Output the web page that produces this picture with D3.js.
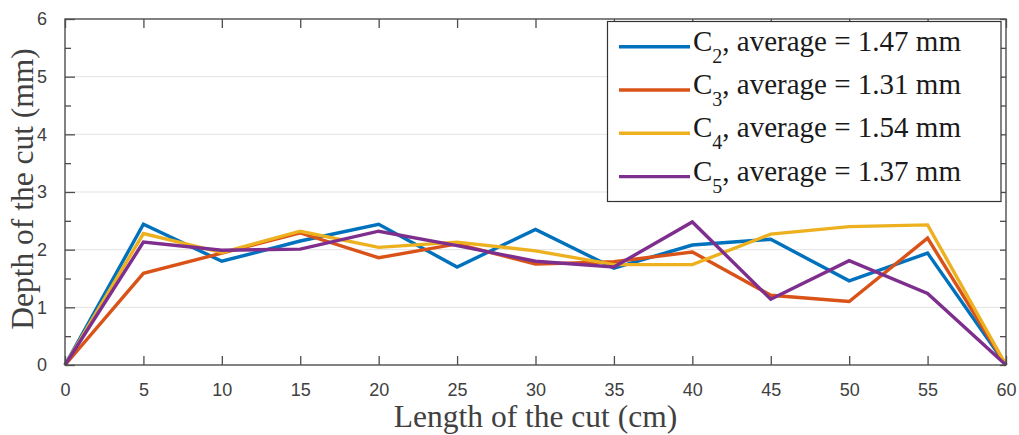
<!DOCTYPE html>
<html>
<head>
<meta charset="utf-8">
<script src="https://cdn.jsdelivr.net/npm/d3@7"></script>
<style>
  html, body { margin: 0; padding: 0; background: #fff; }
  svg { display: block; }
</style>
</head>
<body>
<svg id="chart" width="1019" height="435"></svg>
<script>
// ---- data ----
const lengths = [0, 5, 10, 15, 20, 25, 30, 35, 40, 45, 50, 55, 60];
const c2 = [0, 2.44, 1.80, 2.15, 2.44, 1.70, 2.35, 1.68, 2.08, 2.18, 1.46, 1.94, 0];
const c3 = [0, 1.59, 1.94, 2.29, 1.86, 2.10, 1.75, 1.79, 1.96, 1.21, 1.10, 2.20, 0];
const c4 = [0, 2.28, 1.95, 2.32, 2.04, 2.13, 1.98, 1.74, 1.74, 2.27, 2.40, 2.43, 0];
const c5 = [0, 2.13, 1.99, 2.01, 2.32, 2.07, 1.80, 1.70, 2.48, 1.14, 1.81, 1.24, 0];
const seriesNames = ["C", "C", "C", "C"];
const seriesSubs = ["2", "3", "4", "5"];
const seriesAverages = ["1.47", "1.31", "1.54", "1.37"];
const xTicks = [0, 5, 10, 15, 20, 25, 30, 35, 40, 45, 50, 55, 60];
const yTicks = [0, 1, 2, 3, 4, 5, 6];
const yMinorTicks = [0.5, 1.5, 2.5, 3.5, 4.5, 5.5];
const xTitle = "Length of the cut (cm)";
const yTitle = "Depth of the cut (mm)";

// ---- layout ----
const W = 1019, H = 435;
const m = { left: 65, right: 13, top: 19, bottom: 70 };
const colors = ["#0072BD", "#D95319", "#EDB120", "#7E2F8E"];
const axisColor = "#4d4d4d";
const sans = "'Liberation Sans', Arial, Helvetica, sans-serif";
const serif = "'Liberation Serif', 'Times New Roman', serif";

const svg = d3.select("#chart");
const x = d3.scaleLinear().domain([0, 60]).range([m.left, W - m.right]);
const y = d3.scaleLinear().domain([0, 6]).range([H - m.bottom, m.top]);

// gridlines
svg.append("g")
  .selectAll("line").data(yTicks.filter(d => d > 0 && d < 6)).join("line")
  .attr("x1", x(0)).attr("x2", x(60))
  .attr("y1", d => y(d)).attr("y2", d => y(d))
  .attr("stroke", "#e3e3e3").attr("stroke-width", 1);

// series
const seriesData = [c2, c3, c4, c5];
const line = d3.line().x((d, i) => x(lengths[i])).y(d => y(d));
svg.append("g").selectAll("path").data(seriesData).join("path")
  .attr("d", d => line(d))
  .attr("fill", "none")
  .attr("stroke", (d, i) => colors[i])
  .attr("stroke-width", 3.4)
  .attr("stroke-linejoin", "miter")
  .attr("stroke-miterlimit", 3);

// axes
function styleAxis(g) {
  g.select(".domain").remove();
  g.selectAll(".tick line").attr("stroke", axisColor).attr("stroke-width", 1.3);
  g.selectAll(".tick text").attr("fill", "#404040")
    .style("font-family", sans).style("font-size", "18px");
}
const xAxis = svg.append("g").attr("transform", `translate(0,${y(0)})`)
  .call(d3.axisBottom(x).tickValues(xTicks).tickSize(-9).tickPadding(18).tickFormat(d3.format("d")));
styleAxis(xAxis);
const xAxisTop = svg.append("g").attr("transform", `translate(0,${y(6)})`)
  .call(d3.axisTop(x).tickValues(xTicks).tickSize(-9).tickFormat(""));
styleAxis(xAxisTop);

const yAxis = svg.append("g").attr("transform", `translate(${x(0)},0)`)
  .call(d3.axisLeft(y).tickValues(yTicks).tickSize(-10).tickPadding(18).tickFormat(d3.format("d")));
styleAxis(yAxis);
const yMinor = svg.append("g").attr("transform", `translate(${x(0)},0)`)
  .call(d3.axisLeft(y).tickValues(yMinorTicks).tickSize(-6).tickFormat(""));
styleAxis(yMinor);
const yAxisR = svg.append("g").attr("transform", `translate(${x(60)},0)`)
  .call(d3.axisRight(y).tickValues(yTicks).tickSize(-6).tickFormat(""));
styleAxis(yAxisR);
const yMinorR = svg.append("g").attr("transform", `translate(${x(60)},0)`)
  .call(d3.axisRight(y).tickValues(yMinorTicks).tickSize(-6).tickFormat(""));
styleAxis(yMinorR);

// box
svg.append("rect")
  .attr("x", x(0)).attr("y", y(6))
  .attr("width", x(60) - x(0)).attr("height", y(0) - y(6))
  .attr("fill", "none").attr("stroke", axisColor).attr("stroke-width", 1.4);

// axis titles
svg.append("text")
  .attr("x", (x(0) + x(60)) / 2).attr("y", 427)
  .attr("text-anchor", "middle")
  .attr("fill", "#404040")
  .style("font-family", serif).style("font-size", "31.5px")
  .text(xTitle);
svg.append("text")
  .attr("transform", `translate(33,${(y(0) + y(6)) / 2 - 3}) rotate(-90)`)
  .attr("text-anchor", "middle")
  .attr("fill", "#404040")
  .style("font-family", serif).style("font-size", "31.5px")
  .text(yTitle);

// legend
const lg = svg.append("g");
lg.append("rect")
  .attr("x", 607.5).attr("y", 21.5).attr("width", 393.5).attr("height", 180)
  .attr("fill", "#fff").attr("stroke", "#333").attr("stroke-width", 1.2);
const rows = lg.selectAll("g.row").data(seriesNames).join("g")
  .attr("class", "row")
  .attr("transform", (d, i) => `translate(0,${50.7 + i * 43.3})`);
rows.append("line")
  .attr("x1", 619).attr("x2", 690).attr("y1", -4).attr("y2", -4)
  .attr("stroke", (d, i) => colors[i]).attr("stroke-width", 3.4);
const t = rows.append("text")
  .attr("x", 693).attr("y", 0)
  .attr("fill", "#1a1a1a")
  .style("font-family", serif).style("font-size", "29px");
t.append("tspan").text(d => d);
t.append("tspan").attr("dy", 12).style("font-size", "20px").text((d, i) => seriesSubs[i]);
t.append("tspan").attr("dy", -12).text((d, i) => `, average = ${seriesAverages[i]} mm`);
</script>
</body>
</html>
